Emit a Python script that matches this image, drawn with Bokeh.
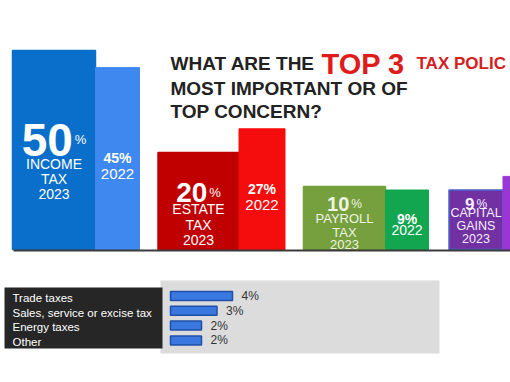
from bokeh.plotting import figure
from bokeh.models import Range1d
from bokeh.layouts import column
from bokeh.core.properties import value
from bokeh.embed import file_html
from bokeh.resources import INLINE

# ---------------- data ----------------
categories = ["INCOME TAX", "ESTATE TAX", "PAYROLL TAX", "CAPITAL GAINS"]
label_lines = [["INCOME", "TAX"], ["ESTATE", "TAX"], ["PAYROLL", "TAX"], ["CAPITAL", "GAINS"]]
pct_2023 = [50, 20, 10, 9]
pct_2022 = [45, 27, 9, 13]
year_now = "2023"
year_prev = "2022"

other_items = ["Trade taxes", "Sales, service or excise tax", "Energy taxes", "Other"]
other_pct = [4, 3, 2, 2]

# ---------------- styles / layout ----------------
FONT = "Liberation Sans"
W = 510
TOP_H = 262
BOT_H = 120
OX, OY = 0, 0                  # page origin of the layout
col_2023 = ["#0a6fca", "#c00000", "#76a03e", "#7131a3"]
col_2022 = ["#3f88f0", "#f50d0d", "#12a650", "#9b36d6"]
edge_2023 = ["#0a6fca", "#c00000", "#76a03e", "#4a63c9"]
txt_col = ["#ffffff", "#ffffff", "#eef3e2", "#f4eefa"]
w_2023 = [83, 81, 82, 54]      # px
w_2022 = [44, 46, 43, 44]      # px
# per-group text layout: (big size, pct size, big baseline, line centers, line size,
#                         2022 pct center, 2022 year center, 2022 size)
tl = [
    (46, 13, 139, [163, 178, 193], 14, 157, 173, 14),
    (28, 13, 192, [208, 224, 239], 14, 188, 204, 14),
    (20, 12, 203, [217.5, 231.5, 244], 13, 218, 229, 14),
    (17, 12, 203, [212, 225.5, 238], 12.5, None, None, 14),
]

# top figure scale helpers (page px -> data)
X0, PITCH = 12, 145.5          # page x of group 0 left, px per group unit
BASE, K, C = 249, 3.4, 8.5      # baseline page y, px per %, bar offset


def ux(px):
    return (px - X0) / PITCH


def uy(py):
    return (BASE - py) / K - C


def wid(px):
    return px / PITCH


def mkfig(h, xr, yr):
    p = figure(width=W, height=h, x_range=xr, y_range=yr, output_backend="svg",
               toolbar_location=None, tools="", min_border=0,
               x_axis_location=None, y_axis_location=None)
    p.grid.visible = False
    p.outline_line_color = None
    p.background_fill_color = "white"
    p.border_fill_color = "white"
    return p


def txt(p, x, y, s, size, color="white", bold=False, align="center", baseline="middle"):
    p.text(x=[x], y=[y], text=[s], text_font=value(FONT), text_font_size=f"{size}px",
           text_font_style="bold" if bold else "normal", text_color=color,
           text_align=align, text_baseline=baseline)


# ---------------- top figure ----------------
p1 = mkfig(TOP_H, Range1d(ux(OX), ux(OX + W)), Range1d(uy(OY + TOP_H), uy(OY)))

l23 = [i for i in range(len(categories))]
r23 = [l + wid(w) for l, w in zip(l23, w_2023)]
r22 = [r + wid(w) for r, w in zip(r23, w_2022)]
p1.quad(left=l23, right=r23, top=pct_2023, bottom=-C, fill_color=col_2023,
        line_color=edge_2023, line_width=1.5)
p1.quad(left=r23, right=r22, top=pct_2022, bottom=-C, fill_color=col_2022,
        line_color=col_2022, line_width=1)

# baseline
p1.segment(x0=[ux(13)], y0=[uy(250)], x1=[ux(OX + W)], y1=[uy(250)],
           line_color="#3a3a3a", line_width=2)

for i in range(len(categories)):
    bsz, psz, bbase, lines_y, lsz, p22y, y22y, sz22 = tl[i]
    cx = (l23[i] + r23[i]) / 2
    num = str(pct_2023[i])
    wn = 0.556 * len(num) * bsz
    wp = 0.889 * psz
    gap = 2
    left = -(wn + gap + wp) / 2
    txt(p1, cx + wid(left + wn), uy(bbase), num, bsz, txt_col[i], True, "right", "alphabetic")
    txt(p1, cx + wid(left + wn + gap), uy(bbase), "%", psz, txt_col[i], False, "left", "alphabetic")
    for s, yy in zip(label_lines[i] + [year_now], lines_y):
        txt(p1, cx, uy(yy), s, lsz, txt_col[i])
    if p22y is not None:
        c22 = (r23[i] + r22[i]) / 2
        txt(p1, c22, uy(p22y), f"{pct_2022[i]}%", sz22, "white", True)
        txt(p1, c22, uy(y22y), year_prev, sz22 + 1 if i < 2 else sz22, "white")

# title
txt(p1, ux(170), uy(63), "WHAT ARE THE", 19, "#222222", True, "left", "alphabetic")
txt(p1, ux(321), uy(63), "TOP 3", 29, "#e01b1b", True, "left", "alphabetic")
txt(p1, ux(416), uy(63), "TAX POLIC", 17, "#d42020", True, "left", "alphabetic")
txt(p1, ux(170), uy(88), "MOST IMPORTANT OR OF", 19, "#222222", True, "left", "alphabetic")
txt(p1, ux(170), uy(111), "TOP CONCERN?", 19, "#222222", True, "left", "alphabetic")

# ---------------- bottom figure ----------------
BX0, BK = 170, 15.5       # page x of 0 %, px per %
RY0, RS = 295.5, 14.8     # page y of first row, px per row
PAGE_TOP2 = OY + TOP_H


def bx(px):
    return (px - BX0) / BK


def by(py):
    return (py - RY0) / RS


p2 = mkfig(BOT_H, Range1d(bx(OX), bx(OX + W)), Range1d(by(PAGE_TOP2 + BOT_H), by(PAGE_TOP2)))

# grey panel and black label box
p2.quad(left=[bx(160)], right=[bx(439)], top=[by(280)], bottom=[by(353)],
        fill_color="#dcdcdc", line_color=None)
p2.quad(left=[bx(4)], right=[bx(162)], top=[by(287)], bottom=[by(348)],
        fill_color="#262626", line_color=None)

rows = list(range(len(other_items)))
p2.hbar(y=rows, left=0, right=other_pct, height=9 / RS, fill_color="#3a78e0",
        line_color="#1f4fa8", line_width=1.5)
p2.text(x=[p + 9 / BK for p in other_pct], y=rows, text=[f"{p}%" for p in other_pct],
        text_font=value(FONT), text_font_size="12px", text_color="#333333",
        text_align="left", text_baseline="middle")
p2.text(x=[bx(12)] * len(rows), y=[r + 0.12 for r in rows], text=other_items,
        text_font=value(FONT), text_font_size="11.5px", text_color="#ffffff",
        text_align="left", text_baseline="middle")

page = column(p1, p2, spacing=0)
open("out.html", "w").write(file_html(page, INLINE))
